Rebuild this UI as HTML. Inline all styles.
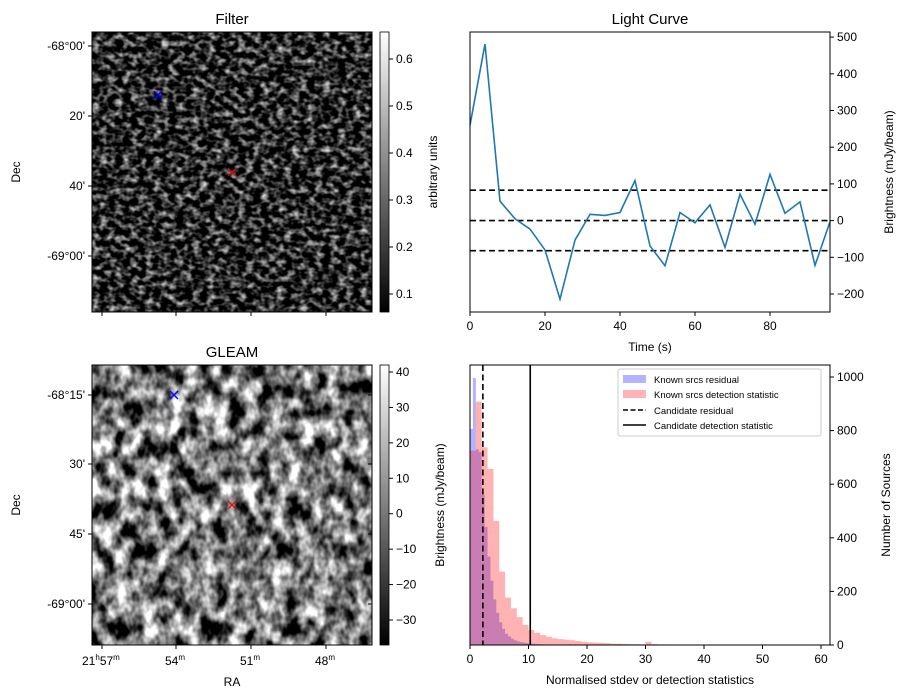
<!DOCTYPE html>
<html><head><meta charset="utf-8"><style>
body{margin:0;background:#fff;}
svg{display:block;font-family:"Liberation Sans","DejaVu Sans",sans-serif;}
text{fill:#000;}
</style></head><body>
<svg id="fig" width="907" height="699" viewBox="0 0 907 699">
<defs>
<filter id="nf1" x="0" y="0" width="100%" height="100%" color-interpolation-filters="sRGB">
<feTurbulence type="fractalNoise" baseFrequency="0.13 0.17" numOctaves="2" seed="3"/>
<feColorMatrix type="matrix" values="1.8 0 0 0 -0.74  1.8 0 0 0 -0.74  1.8 0 0 0 -0.74  0 0 0 0 1"/>
</filter>
<filter id="nf2" x="0" y="0" width="100%" height="100%" color-interpolation-filters="sRGB">
<feTurbulence type="fractalNoise" baseFrequency="0.07 0.05" numOctaves="3" seed="7"/>
<feColorMatrix type="matrix" values="2.4 0 0 0 -0.72  2.4 0 0 0 -0.72  2.4 0 0 0 -0.72  0 0 0 0 1"/>
</filter>
<linearGradient id="cbg" x1="0" y1="1" x2="0" y2="0"><stop offset="0" stop-color="#000"/><stop offset="1" stop-color="#fff"/></linearGradient>
</defs>

<g>
<text x="232" y="24" font-size="15" text-anchor="middle">Filter</text>
<rect x="92" y="32" width="280" height="280" filter="url(#nf1)"/>
<rect x="92" y="32" width="280" height="280" fill="none" stroke="#000" stroke-width="1"/>
<path d="M154,91 l8,8 M162,91 l-8,8" stroke="#00f" stroke-width="1.4"/>
<path d="M228,168 l8,8 M236,168 l-8,8" stroke="#e00" stroke-width="1.2"/>
<g font-size="12" text-anchor="end">
<text x="85" y="50">-68°00'</text><text x="85" y="120">20'</text><text x="85" y="190">40'</text><text x="85" y="260">-69°00'</text>
</g>
<g stroke="#000"><line x1="88" y1="46" x2="92" y2="46"/><line x1="88" y1="116" x2="92" y2="116"/><line x1="88" y1="186" x2="92" y2="186"/><line x1="88" y1="256" x2="92" y2="256"/>
<line x1="102" y1="312" x2="102" y2="316"/><line x1="176" y1="312" x2="176" y2="316"/><line x1="251" y1="312" x2="251" y2="316"/><line x1="326" y1="312" x2="326" y2="316"/></g>
<text x="20" y="172" font-size="12" transform="rotate(-90 20 172)" text-anchor="middle">Dec</text>
<rect x="380" y="32" width="9" height="280" fill="url(#cbg)" stroke="#000" stroke-width="0.8"/>
<g font-size="12" id="cb1"></g>
<text x="437" y="172" font-size="12" transform="rotate(-90 437 172)" text-anchor="middle">arbitrary units</text>
</g>

<g>
<text x="232" y="357" font-size="15" text-anchor="middle">GLEAM</text>
<rect x="92" y="365" width="280" height="280" filter="url(#nf2)"/>
<rect x="92" y="365" width="280" height="280" fill="none" stroke="#000" stroke-width="1"/>
<path d="M170,391 l8,8 M178,391 l-8,8" stroke="#00f" stroke-width="1.4"/>
<path d="M228,501 l8,8 M236,501 l-8,8" stroke="#e00" stroke-width="1.2"/>
<g font-size="12" text-anchor="end">
<text x="85" y="399">-68°15'</text><text x="85" y="468">30'</text><text x="85" y="538">45'</text><text x="85" y="608">-69°00'</text>
</g>
<g stroke="#000"><line x1="88" y1="395" x2="92" y2="395"/><line x1="88" y1="464" x2="92" y2="464"/><line x1="88" y1="534" x2="92" y2="534"/><line x1="88" y1="604" x2="92" y2="604"/>
<line x1="102" y1="645" x2="102" y2="649"/><line x1="176" y1="645" x2="176" y2="649"/><line x1="251" y1="645" x2="251" y2="649"/><line x1="326" y1="645" x2="326" y2="649"/>
<line x1="368" y1="395" x2="372" y2="395"/><line x1="368" y1="464" x2="372" y2="464"/><line x1="368" y1="534" x2="372" y2="534"/><line x1="368" y1="604" x2="372" y2="604"/></g>
<g font-size="12">
<text x="82" y="665">21<tspan font-size="8" dy="-5">h</tspan><tspan dy="5">57</tspan><tspan font-size="8" dy="-5">m</tspan></text>
<text x="165" y="665">54<tspan font-size="8" dy="-5">m</tspan></text>
<text x="240" y="665">51<tspan font-size="8" dy="-5">m</tspan></text>
<text x="315" y="665">48<tspan font-size="8" dy="-5">m</tspan></text>
</g>
<text x="232" y="686" font-size="12" text-anchor="middle">RA</text>
<text x="20" y="505" font-size="12" transform="rotate(-90 20 505)" text-anchor="middle">Dec</text>
<rect x="380" y="365" width="9" height="280" fill="url(#cbg)" stroke="#000" stroke-width="0.8"/>
<g font-size="12" id="cb2"></g>
<text x="444" y="505" font-size="12" transform="rotate(-90 444 505)" text-anchor="middle">Brightness (mJy/beam)</text>
</g>

<g>
<text x="650" y="24" font-size="15" text-anchor="middle">Light Curve</text>
<g id="lc"></g>
<rect x="470" y="32" width="360" height="280" fill="none" stroke="#000" stroke-width="1"/>
<text x="650" y="351" font-size="12" text-anchor="middle">Time (s)</text>
<text x="893" y="172" font-size="12" transform="rotate(-90 893 172)" text-anchor="middle">Brightness (mJy/beam)</text>
</g>

<g>
<g id="hist"></g>
<rect x="470" y="365" width="360" height="280" fill="none" stroke="#000" stroke-width="1"/>
<text x="650" y="684" font-size="12" text-anchor="middle">Normalised stdev or detection statistics</text>
<text x="890" y="505" font-size="12" transform="rotate(-90 890 505)" text-anchor="middle">Number of Sources</text>
<g>
<rect x="618" y="369" width="203" height="67" rx="2" fill="#fff" fill-opacity="0.8" stroke="#ccc"/>
<rect x="623" y="375" width="23" height="8" fill="#b3b3ff"/><text x="654" y="383" font-size="9.5">Known srcs residual</text>
<rect x="623" y="390" width="23" height="8" fill="#ffb3b3"/><text x="654" y="398" font-size="9.5">Known srcs detection statistic</text>
<line x1="623" y1="410" x2="646" y2="410" stroke="#000" stroke-width="1.5" stroke-dasharray="5,2.5"/><text x="654" y="414" font-size="9.5">Candidate residual</text>
<line x1="623" y1="425" x2="646" y2="425" stroke="#000" stroke-width="1.5"/><text x="654" y="429" font-size="9.5">Candidate detection statistic</text>
</g>
</g>
</svg>
<script>
const NS="http://www.w3.org/2000/svg";
function mk(tag,attrs,parent){const e=document.createElementNS(NS,tag);for(const k in attrs)e.setAttribute(k,attrs[k]);parent.appendChild(e);return e;}

const cb1Ticks=[0.1,0.2,0.3,0.4,0.5,0.6];
const cb2Ticks=[-30,-20,-10,0,10,20,30,40];
function cbY1(v){return 294+(0.1-v)*(294-59)/0.5;}
function cbY2(v){return 620-(v+30)*(620-372)/70;}
function drawCb(gid,ticks,fy,fmt){const g=document.getElementById(gid);
 ticks.forEach(t=>{const y=fy(t);
  const l=mk('line',{x1:389,x2:393,y1:y,y2:y,stroke:'#000'},g);
  
  
  const tx=mk('text',{x:396,y:y+4,'font-size':12},g);tx.textContent=fmt(t);
  
  });}
drawCb('cb1',cb1Ticks,cbY1,t=>t.toFixed(1));
drawCb('cb2',cb2Ticks,cbY2,t=>t<0?'\u2212'+(-t):String(t));

const lcTimes=[0,4,8,12,16,20,24,28,32,36,40,44,48,52,56,60,64,68,72,76,80,84,88,92,96];
const lcValues=[260,481,53,5,-23,-80,-214,-53,17,14,22,109,-69,-123,22,-6,43,-73,72,-10,126,20,51,-122,-3];
const lcThresholds=[83,0,-82];
const lcXTicks=[0,20,40,60,80];
const lcYTicks=[-200,-100,0,100,200,300,400,500];
const LX0=470,LX1=830,LXMAX=96,LY0=220.6,LYS=0.367;
function lx(t){return LX0+t*(LX1-LX0)/LXMAX;}
function ly(v){return LY0-v*LYS;}
const lc=document.getElementById('lc');
lcThresholds.forEach(v=>{const l=mk('line',{x1:470,x2:830,y1:ly(v),y2:ly(v),stroke:'#000','stroke-width':1.6,'stroke-dasharray':'6,3.5'},lc);
 
 });
const pl=mk('polyline',{points:lcTimes.map((t,i)=>lx(t)+','+ly(lcValues[i])).join(' '),fill:'none',stroke:'#1f77b4','stroke-width':1.6},lc);


lcXTicks.forEach(t=>{const x=lx(t);mk('line',{x1:x,x2:x,y1:312,y2:316,stroke:'#000'},lc);
 const tx=mk('text',{x:x,y:330,'font-size':12,'text-anchor':'middle'},lc);tx.textContent=t;
 
 });
lcYTicks.forEach(v=>{const y=ly(v);mk('line',{x1:830,x2:834,y1:y,y2:y,stroke:'#000'},lc);
 const tx=mk('text',{x:837,y:y+4,'font-size':12},lc);tx.textContent=v<0?'\u2212'+(-v):v;
 
 });

const redBinWidth=1;
const redCounts=[725,908,738,657,463,274,177,137,104,75,56,46,37,31,25,22,20,18,15,12,10,9,8,7,5,5,4,3,3,2,12,3,2,2,1,1,1,1,1,1,2,0,1,0,0,0,0,1,0,1,0,0,0,0,0,0,0,0,1];
const blueBinWidth=0.5;
const blueCounts=[806,996,730,720,560,440,330,240,170,120,85,60,42,32,24,18,14,11,9,7,6,5,4,3,3,2,2,2,1,1,1,1,1,1,1,1,1,1];
const candResidual=2.2;
const candDetection=10.3;
const hXTicks=[0,10,20,30,40,50,60];
const hYTicks=[0,200,400,600,800,1000];
const HX0=470,HXS=5.85,HY0=645,HYS=0.268;
function hx(v){return HX0+v*HXS;}
function hy(c){return HY0-c*HYS;}
const h=document.getElementById('hist');
blueCounts.forEach((c,i)=>{if(!c)return;const r=mk('rect',{x:hx(i*blueBinWidth),y:hy(c),width:blueBinWidth*HXS,height:c*HYS,fill:'#0000ff','fill-opacity':0.3},h);
 
 });
redCounts.forEach((c,i)=>{if(!c)return;const r=mk('rect',{x:hx(i*redBinWidth),y:hy(c),width:redBinWidth*HXS,height:c*HYS,fill:'#ff0000','fill-opacity':0.3},h);
 
 });
const l1=mk('line',{x1:hx(candResidual),x2:hx(candResidual),y1:365,y2:645,stroke:'#000','stroke-width':1.6,'stroke-dasharray':'6,3.5'},h);


const l2=mk('line',{x1:hx(candDetection),x2:hx(candDetection),y1:365,y2:645,stroke:'#000','stroke-width':1.6},h);


hXTicks.forEach(t=>{const x=hx(t);mk('line',{x1:x,x2:x,y1:645,y2:649,stroke:'#000'},h);
 const tx=mk('text',{x:x,y:663,'font-size':12,'text-anchor':'middle'},h);tx.textContent=t;
 
 });
hYTicks.forEach(v=>{const y=hy(v);mk('line',{x1:830,x2:834,y1:y,y2:y,stroke:'#000'},h);
 const tx=mk('text',{x:837,y:y+4,'font-size':12},h);tx.textContent=v;
 
 });
</script>
</body></html>
